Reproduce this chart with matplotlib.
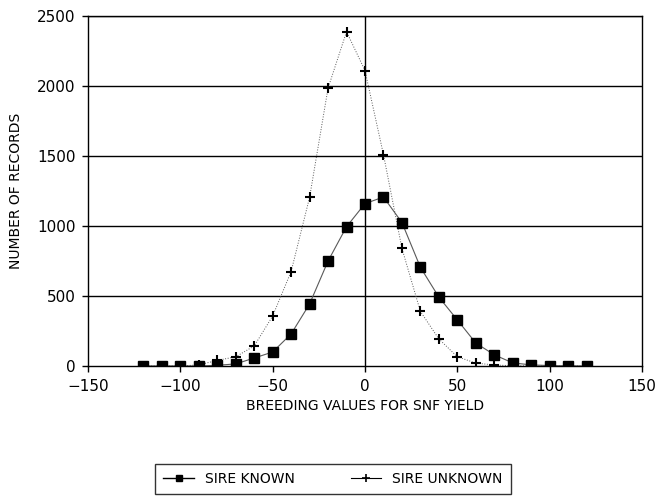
import numpy as np
import matplotlib
matplotlib.use("Agg")
import matplotlib.pyplot as plt
from matplotlib.lines import Line2D

# breeding value classes (SNF yield)
bv = [-120, -110, -100, -90, -80, -70, -60, -50, -40, -30, -20, -10, 0,
      10, 20, 30, 40, 50, 60, 70, 80, 90, 100, 110, 120]
sire_known = [0, 0, 0, 0, 5, 15, 57, 100, 229, 443, 750, 995, 1160,
              1207, 1025, 705, 492, 329, 164, 80, 22, 8, 3, 1, 0]
sire_unknown = [0, 0, 0, 8, 40, 66, 143, 357, 675, 1205, 1985, 2388, 2110,
                1510, 840, 390, 193, 66, 21, 7, 2, 1, 0, 0, 0]

xticks = [-150, -100, -50, 0, 50, 100, 150]
yticks = [0, 500, 1000, 1500, 2000, 2500]

plt.rcParams["font.family"] = ["DejaVu Sans"]

fig = plt.figure(figsize=(6.6, 4.98), dpi=100)
ax = fig.add_axes([88 / 660, 1 - 366 / 498, 554 / 660, 350 / 498])

ax.set_xlim(-150, 150)
ax.set_ylim(0, 2500)
ax.set_xticks(xticks)
ax.set_yticks(yticks)
ax.set_xticklabels(["\u2212150", "\u2212100", "\u221250", "0", "50", "100", "150"])
ax.tick_params(direction="out", length=4, width=1, labelsize=11)
ax.tick_params(axis="y", pad=5)
ax.tick_params(axis="x", pad=5)

for y in yticks[1:]:
    ax.axhline(y, color="black", lw=1.0, zorder=1)
ax.axvline(0, color="black", lw=1.0, zorder=1)
for s in ax.spines.values():
    s.set_linewidth(1.0)

ax.plot(bv, sire_unknown, color="0.35", lw=0.7, ls=":", zorder=2)
ax.plot(bv, sire_unknown, ls="none", marker="+", ms=7, mew=1.5,
        color="black", zorder=3)
ax.plot(bv, sire_known, color="0.35", lw=0.8, zorder=2)
ax.plot(bv, sire_known, ls="none", marker="s", ms=6.5, color="black", zorder=4)

ax.set_xlabel("BREEDING VALUES FOR SNF YIELD", fontsize=10, labelpad=4)
ax.set_ylabel("NUMBER OF RECORDS", fontsize=10, labelpad=10)

handles = [
    Line2D([], [], color="black", lw=1.0, marker="s", ms=5),
    Line2D([], [], color="black", lw=0.8, marker="+", ms=6, mew=1.2),
]
leg = fig.legend(handles, ["SIRE KNOWN", "SIRE UNKNOWN"], ncol=2,
                 loc="center", bbox_to_anchor=(333 / 660, 1 - 479 / 498),
                 fontsize=10, frameon=True, fancybox=False,
                 handlelength=2.2, columnspacing=4.0, borderpad=0.6,
                 handletextpad=0.8, borderaxespad=0.0)
leg.get_frame().set_edgecolor("black")
leg.get_frame().set_linewidth(1.0)

fig.savefig("out.png", dpi=100)
